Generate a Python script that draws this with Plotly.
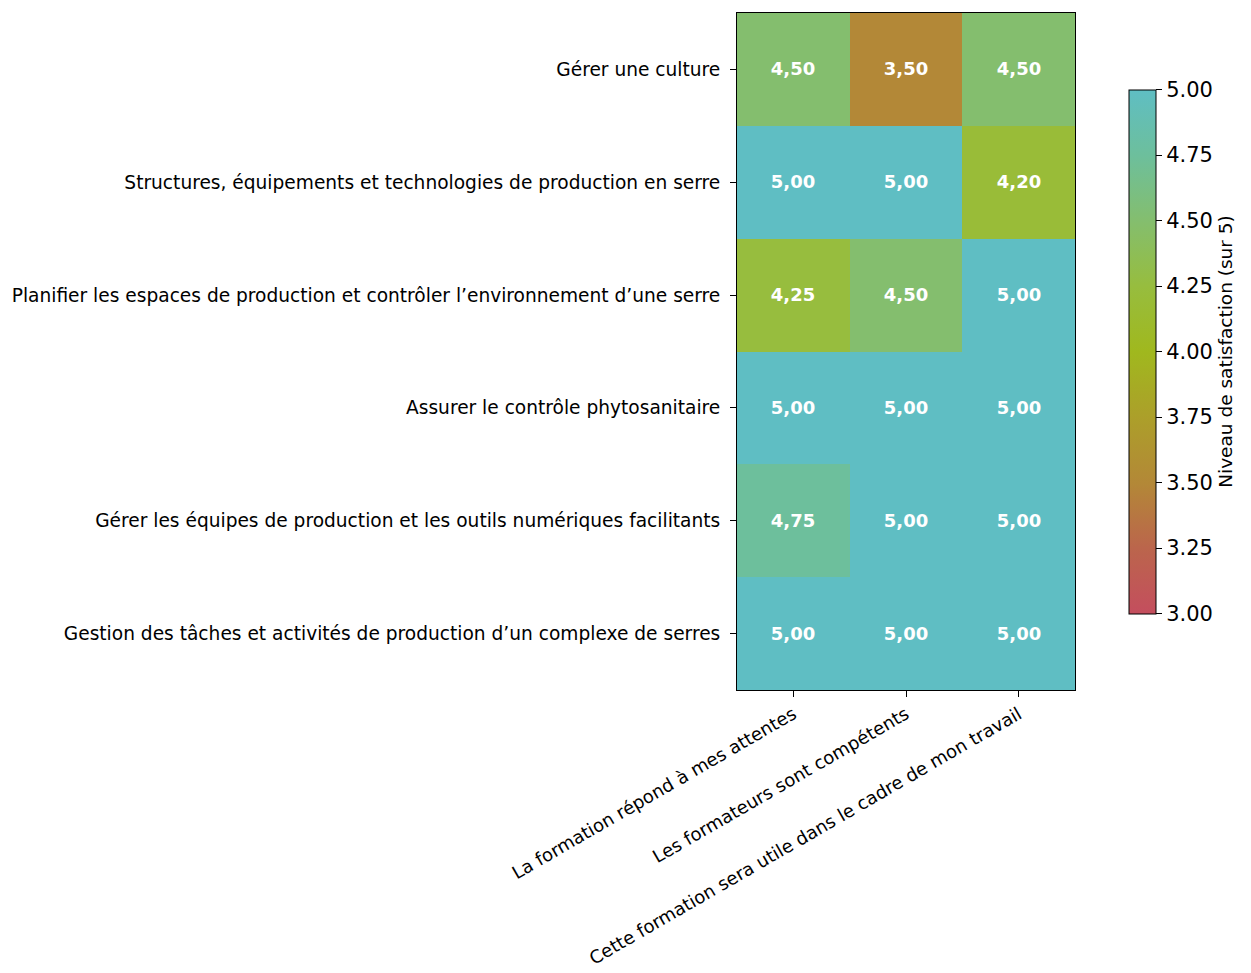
import plotly.graph_objects as go

rows = [
    "Gérer une culture",
    "Structures, équipements et technologies de production en serre",
    "Planifier les espaces de production et contrôler l’environnement d’une serre",
    "Assurer le contrôle phytosanitaire",
    "Gérer les équipes de production et les outils numériques facilitants",
    "Gestion des tâches et activités de production d’un complexe de serres",
]
cols = [
    "La formation répond à mes attentes",
    "Les formateurs sont compétents",
    "Cette formation sera utile dans le cadre de mon travail",
]
attentes = [4.50, 5.00, 4.25, 5.00, 4.75, 5.00]
competents = [3.50, 5.00, 4.50, 5.00, 5.00, 5.00]
utile = [4.50, 4.20, 5.00, 5.00, 5.00, 5.00]

z = [[a, b, c] for a, b, c in zip(attentes, competents, utile)]
text = [[f"{v:.2f}".replace(".", ",") for v in row] for row in z]

colorscale = [
    [0.0, "#c44e5e"],
    [0.125, "#bb654c"],
    [0.25, "#b38837"],
    [0.375, "#ac9f2a"],
    [0.5, "#a0b81e"],
    [0.625, "#97bd3e"],
    [0.75, "#84be6e"],
    [0.875, "#6dbf9c"],
    [1.0, "#5fbec3"],
]

W, H = 1243, 965
L, T = 729, 5
PW, PH = 338, 677

fig = go.Figure(go.Heatmap(
    z=z, x=cols, y=rows, zmin=3, zmax=5, colorscale=colorscale,
    text=text, texttemplate="<b>%{text}</b>",
    textfont=dict(color="white", size=18, family="DejaVu Sans"),
    xgap=0, ygap=0,
    colorbar=dict(
        x=1.16, xanchor="left", xpad=0, y=0.5, yanchor="middle",
        thickness=27, len=544, lenmode="pixels",
        outlinewidth=1, outlinecolor="black",
        ticks="outside", ticklen=6, tickcolor="black",
        tickvals=[3, 3.25, 3.5, 3.75, 4, 4.25, 4.5, 4.75, 5],
        ticktext=["3.00", "3.25", "3.50", "3.75", "4.00", "4.25", "4.50", "4.75", "5.00"],
        tickfont=dict(size=21, family="DejaVu Sans", color="black"),
        title=dict(text="Niveau de satisfaction (sur 5)", side="right",
                   font=dict(size=18.5, family="DejaVu Sans", color="black")),
    ),
))

fig.update_layout(
    width=W, height=H,
    margin=dict(l=L, r=W - L - PW, t=T, b=H - T - PH),
    plot_bgcolor="white", paper_bgcolor="white",
    font=dict(family="DejaVu Sans", color="black", size=18.6),
    xaxis=dict(showline=True, linecolor="black", linewidth=1, mirror=True,
               ticks="outside", ticklen=6, tickcolor="black", tickangle=-30,
               tickfont=dict(size=18), automargin=False),
    yaxis=dict(showline=True, linecolor="black", linewidth=1, mirror=True,
               ticks="outside", ticklen=6, tickcolor="black", autorange="reversed",
               tickfont=dict(size=18.6), automargin=False, ticklabelstandoff=6),
)

fig.write_html("out.html")
